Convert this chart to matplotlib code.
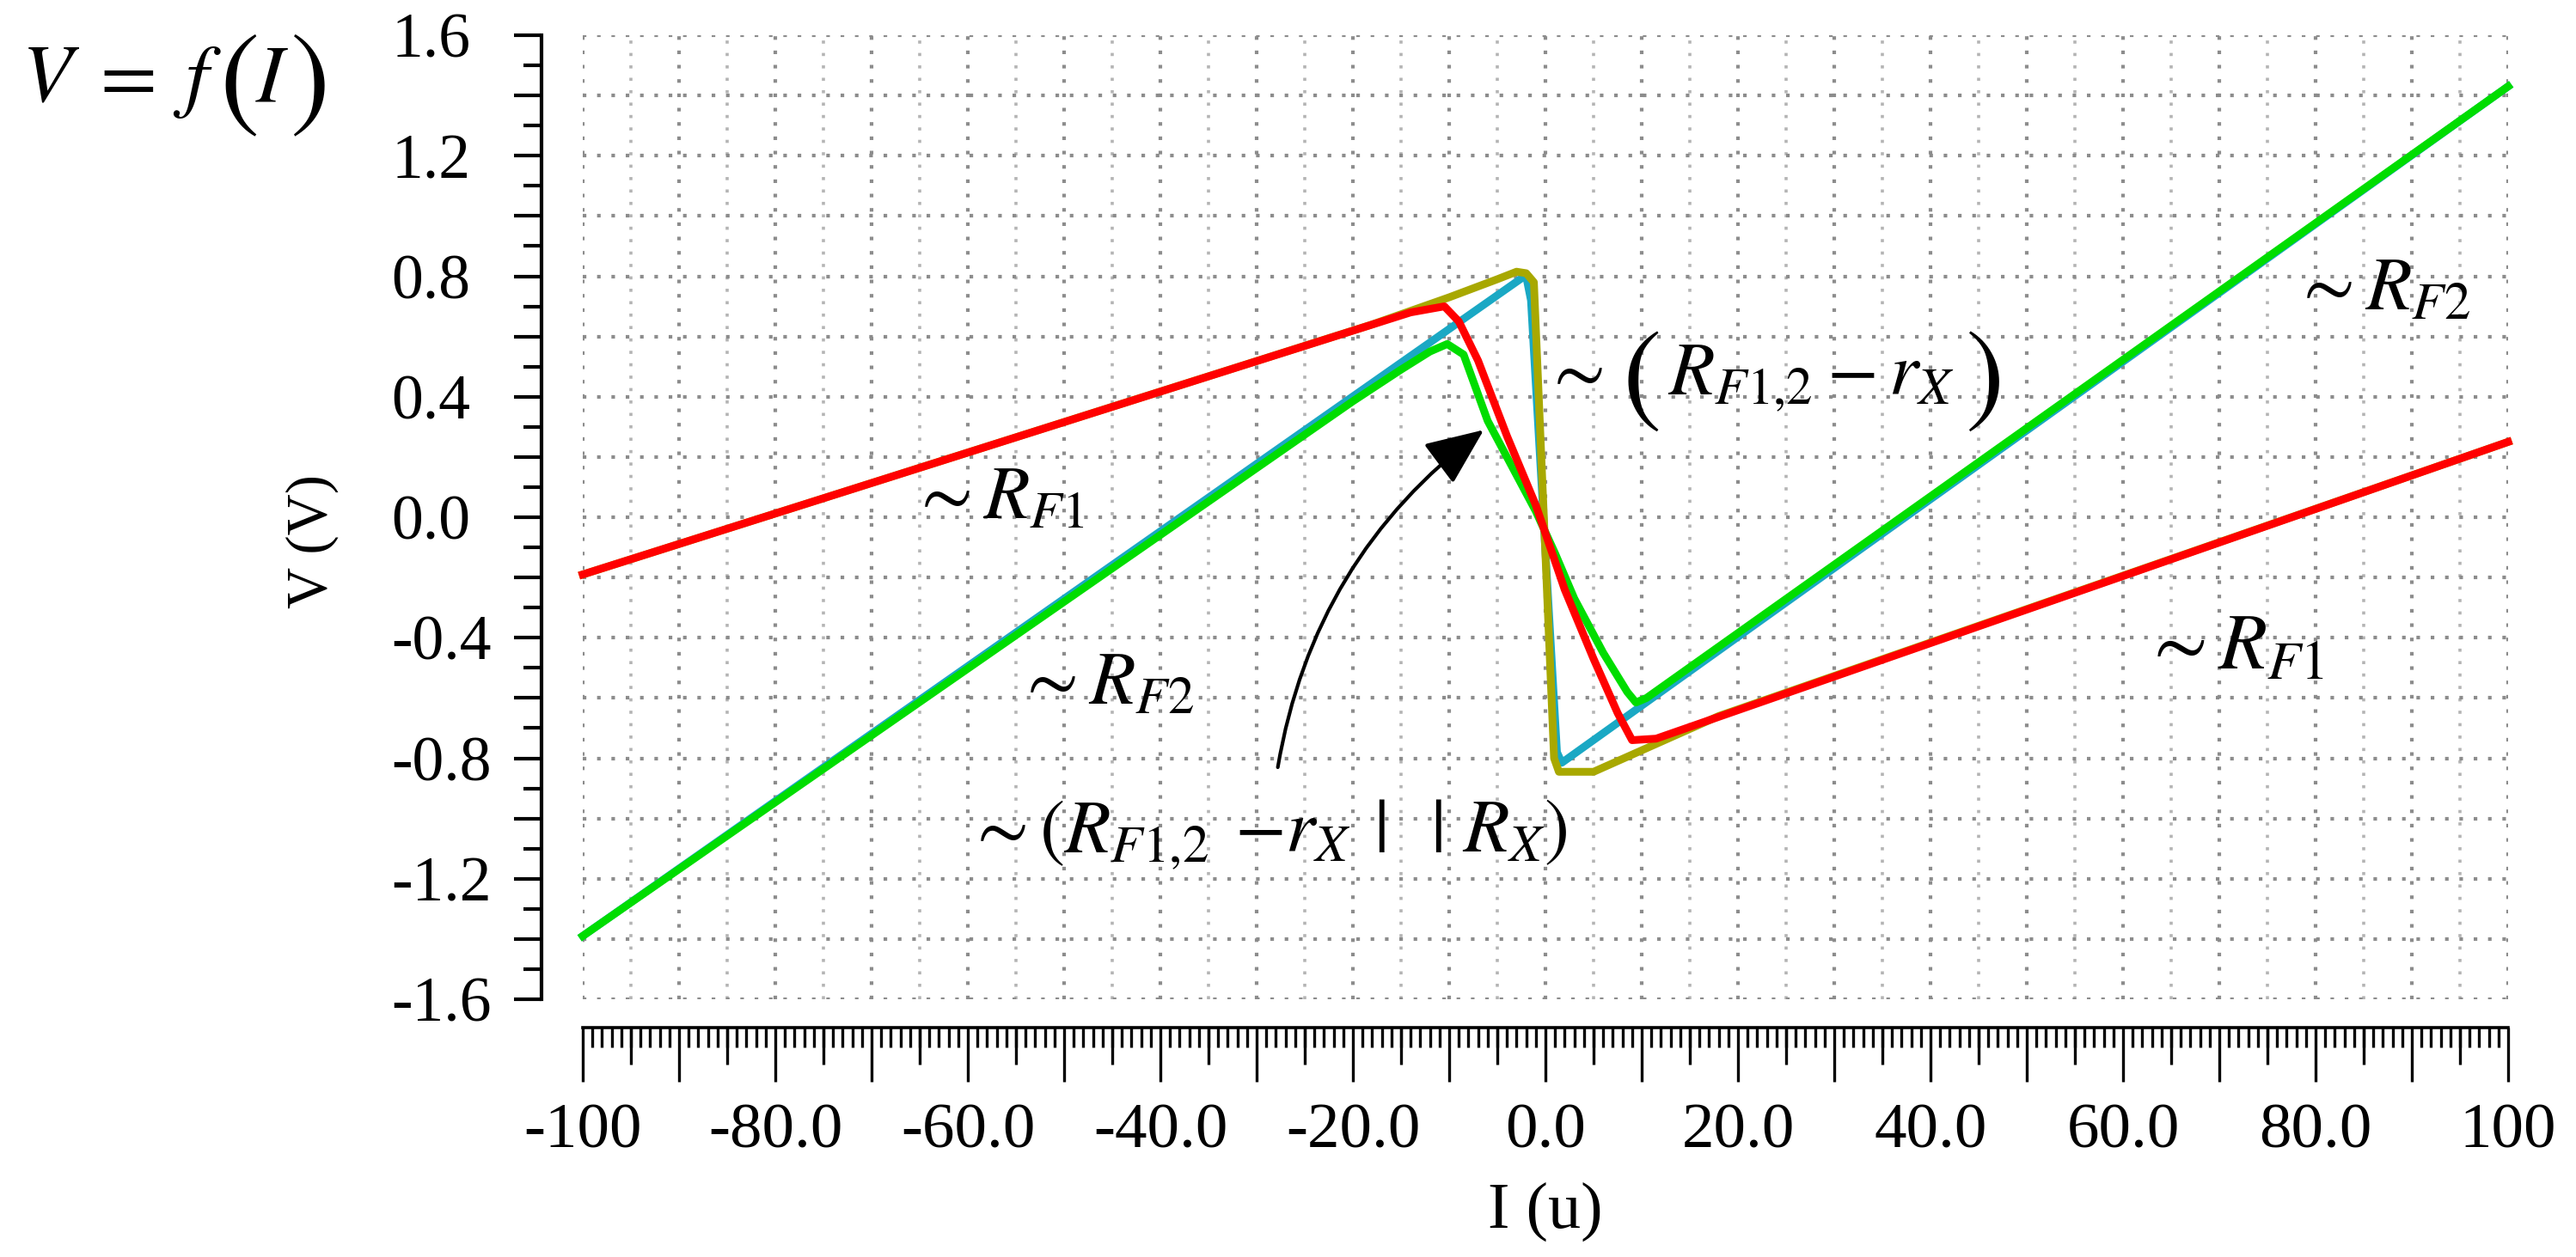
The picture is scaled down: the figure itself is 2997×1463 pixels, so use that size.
import numpy as np
import matplotlib
matplotlib.use("Agg")
from matplotlib import pyplot as plt
from matplotlib.ticker import MultipleLocator, FuncFormatter

# traces: current I (u) and voltage V (V)
red_i = [-100, -14, -10.5, -9, -7, -4, -1, 2, 5, 7.5, 9, 11.5, 100]
red_v = [-0.19, 0.68, 0.70, 0.65, 0.52, 0.27, 0.04, -0.24, -0.47, -0.65, -0.74, -0.735, 0.25]

green_i = [-100, -20, -15, -12, -10.2, -8.5, -6, -3, -1, 1, 3, 6, 8.5, 9.4, 10.5, 100]
green_v = [-1.39, 0.385, 0.49, 0.55, 0.575, 0.54, 0.32, 0.14, 0.02, -0.12, -0.27, -0.45, -0.58, -0.615, -0.60, 1.43]

cyan_i = [-100, -2.4, -2.0, -1.5, 1.2, 1.7, 100]
cyan_v = [-1.39, 0.795, 0.80, 0.72, -0.78, -0.815, 1.43]

olive_i = [-100, -18, -10, -5, -3, -2, -1.2, 0.9, 1.4, 5.0, 18, 100]
olive_v = [-0.19, 0.64, 0.73, 0.79, 0.815, 0.81, 0.78, -0.80, -0.845, -0.845, -0.66, 0.25]

W, H = 2997, 1463


def fpos(x, y):
    # pixel position in the picture -> figure fraction
    return x / W, 1 - y / H


def xlabel_fmt(v, pos):
    v = round(v)
    if v % 20:
        return ""
    if abs(v) == 100:
        return "%d" % v
    return "%.1f" % v


def ylabel_fmt(v, pos):
    k = round(v / 0.2)
    if k % 2:
        return ""
    return "%.1f" % (k * 0.2 + 0.0)


def place_after(fig, ax, prev, s, gap, y, **kw):
    # put a text `gap` pixels right of the previous one
    bb = prev.get_window_extent(fig.canvas.get_renderer())
    x = ax.transData.inverted().transform((bb.x1 + gap, 0))[0]
    return ax.text(x, y, s, ha="left", va="baseline", **kw)


def main():
    plt.rcParams["font.family"] = "serif"
    plt.rcParams["font.serif"] = ["Liberation Serif", "DejaVu Serif"]
    plt.rcParams["mathtext.fontset"] = "stix"

    fig = plt.figure(figsize=(W / 100, H / 100), dpi=100)
    ax = fig.add_axes([678 / W, 1 - 1163 / H, (2918 - 678) / W, (1163 - 41) / H])

    ax.set_xlim(-100, 100)
    ax.set_ylim(-1.6, 1.6)

    # dotted grid
    ax.grid(which="major", color="#8c8c8c", linestyle=(0, (1, 3)), lw=3)
    ax.vlines(np.arange(-95, 100, 10), -1.6, 1.6, colors="#b4b4b4",
              linestyles=(0, (1, 3)), lw=2.6, zorder=0.5)

    lw = 6.5
    ax.plot(cyan_i, cyan_v, color="#1aa8c4", lw=lw, zorder=2, clip_on=False)
    ax.plot(olive_i, olive_v, color="#a8a800", lw=lw, zorder=3, clip_on=False)
    ax.plot(green_i, green_v, color="#00dd00", lw=lw, zorder=4, clip_on=False)
    ax.plot(red_i, red_v, color="#ff0000", lw=lw, zorder=5, clip_on=False)

    for s in ("top", "right"):
        ax.spines[s].set_visible(False)
    ax.spines["left"].set_position(("outward", 34.5))
    ax.spines["bottom"].set_position(("outward", 24))
    ax.spines["left"].set_linewidth(3)
    ax.spines["bottom"].set_linewidth(2.6)

    ax.xaxis.set_major_locator(MultipleLocator(10))
    ax.xaxis.set_minor_locator(MultipleLocator(1))
    ax.xaxis.set_major_formatter(FuncFormatter(xlabel_fmt))
    ax.yaxis.set_major_locator(MultipleLocator(0.2))
    ax.yaxis.set_minor_locator(MultipleLocator(0.1))
    ax.yaxis.set_major_formatter(FuncFormatter(ylabel_fmt))

    ax.tick_params(axis="x", which="major", direction="out", length=45, width=2.4,
                   pad=18, labelsize=54)
    ax.tick_params(axis="x", which="minor", direction="out", length=16.5, width=2.4)
    ax.tick_params(axis="y", which="major", direction="out", length=23, width=3,
                   pad=103, labelsize=53)
    ax.tick_params(axis="y", which="minor", direction="out", length=15, width=3)
    plt.setp(ax.get_yticklabels(), ha="left")

    # medium ticks of the ruler every 5
    sec = ax.secondary_xaxis(-24 / 0.72 / (1163 - 41))
    sec.set_xticks(np.arange(-95, 100, 10))
    sec.tick_params(direction="out", length=31, width=2.4, labelbottom=False)
    sec.spines["bottom"].set_visible(False)

    # axis titles
    fig.text(*fpos(363, 630), "V (V)", rotation=90, ha="center", va="center", fontsize=48)
    fig.text(*fpos(1798, 1410), "I (u)", ha="center", va="center", fontsize=55)

    # V = f(I)
    fig.text(*fpos(25, 118), r"$V\;=\;f$", ha="left", va="baseline", fontsize=69)
    fig.text(*fpos(255, 134), r"$($", ha="left", va="baseline", fontsize=100)
    fig.text(*fpos(297, 118), r"$I$", ha="left", va="baseline", fontsize=69)
    fig.text(*fpos(337, 134), r"$)$", ha="left", va="baseline", fontsize=100)

    fs = 63
    ax.text(-66, 0.0, r"$\sim R_{F1}$", ha="left", va="baseline", fontsize=fs)
    ax.text(-55, -0.62, r"$\sim R_{F2}$", ha="left", va="baseline", fontsize=fs)
    ax.text(77.6, 0.69, r"$\sim R_{F2}$", ha="left", va="baseline", fontsize=fs)
    ax.text(62, -0.50, r"$\sim R_{F1}$", ha="left", va="baseline", fontsize=66)

    fig.canvas.draw()
    # ~(R_F1,2 - r_X) with tall brackets
    t = ax.text(-0.3, 0.41, r"$\sim$", ha="left", va="baseline", fontsize=fs)
    t = place_after(fig, ax, t, r"$($", 22, 0.355, fontsize=98)
    t = place_after(fig, ax, t, r"$R_{F1{,}2}-r_X$", 10, 0.41, fontsize=fs)
    place_after(fig, ax, t, r"$)$", 12, 0.355, fontsize=98)

    # ~(R_F1,2 - r_X || R_X)
    t = ax.text(-60.2, -1.11, r"$\sim(R_{F1{,}2}$", ha="left", va="baseline", fontsize=fs)
    t = place_after(fig, ax, t, r"$-r_X$", 30, -1.11, fontsize=fs)
    t = place_after(fig, ax, t, r"$|$", 26, -1.11, fontsize=fs)
    t = place_after(fig, ax, t, r"$|$", 52, -1.11, fontsize=fs)
    place_after(fig, ax, t, r"$R_X)$", 24, -1.11, fontsize=fs)

    ax.annotate("", xy=(-6.4, 0.29), xytext=(-27.8, -0.83),
                arrowprops=dict(arrowstyle="-|>,head_length=0.42,head_width=0.18",
                                connectionstyle="arc3,rad=-0.2", color="k", lw=3,
                                mutation_scale=100, shrinkA=0, shrinkB=0))

    fig.savefig("out.png", dpi=100)


if __name__ == "__main__":
    main()
